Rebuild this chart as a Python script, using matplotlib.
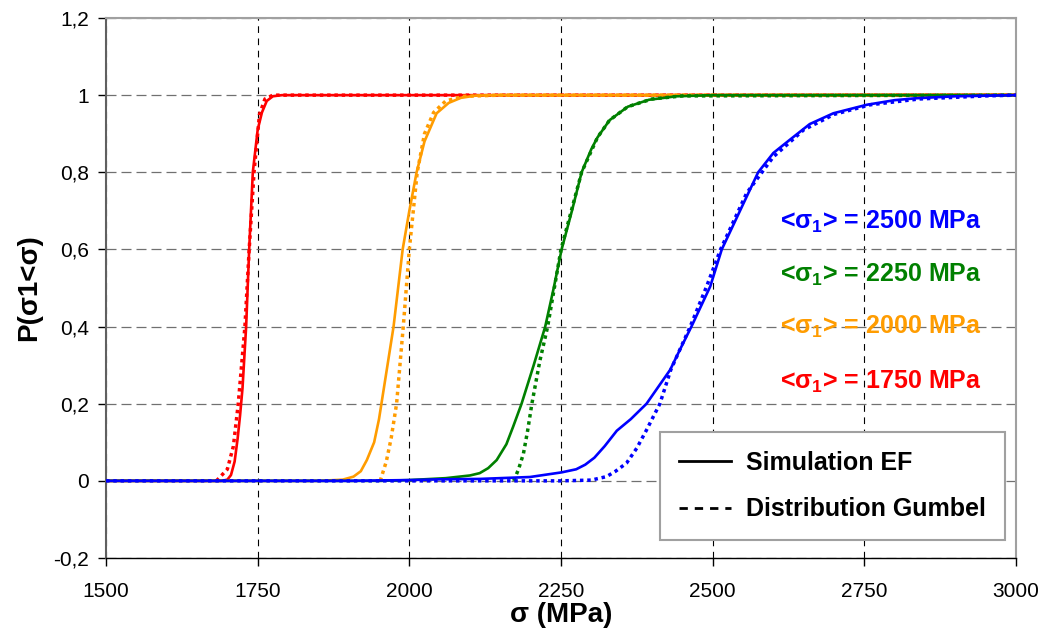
import matplotlib
matplotlib.use('Agg')
import matplotlib.pyplot as plt
from matplotlib.lines import Line2D
from matplotlib.ticker import FixedLocator, FuncFormatter

plt.rcParams['font.family'] = ['Liberation Sans', 'DejaVu Sans']
plt.rcParams['mathtext.fontset'] = 'custom'
plt.rcParams['mathtext.rm'] = 'Liberation Sans:bold'
plt.rcParams['mathtext.it'] = 'Liberation Sans:bold'
plt.rcParams['mathtext.bf'] = 'Liberation Sans:bold'

# Simulation EF (solid) and Gumbel (dotted)
red_sim_x = [1500, 1690, 1700, 1706, 1712, 1717, 1721, 1725, 1731, 1736, 1742, 1750, 1757, 1765, 1775, 1790, 3000]
red_sim_y = [0, 0, 0.003, 0.015, 0.05, 0.11, 0.17, 0.24, 0.4, 0.6, 0.8, 0.91, 0.955, 0.985, 0.997, 1.0, 1.0]
red_gum_x = [1682, 1700, 1710, 1718, 1729, 1736, 1744, 1753, 1762, 1775, 1800, 3000]
red_gum_y = [0, 0.03, 0.09, 0.2, 0.4, 0.6, 0.8, 0.95, 0.99, 1.0, 1.0, 1.0]

orange_sim_x = [1500, 1850, 1890, 1908, 1920, 1930, 1942, 1950, 1954, 1964, 1974, 1989, 2000, 2012,
                2025, 2045, 2065, 2085, 2110, 2150, 3000]
orange_sim_y = [0, 0, 0.003, 0.011, 0.025, 0.054, 0.1, 0.16, 0.2, 0.3, 0.4, 0.6, 0.7, 0.8,
                0.88, 0.953, 0.98, 0.993, 0.999, 1.0, 1.0]
orange_gum_x = [1952, 1962, 1970, 1979, 1990, 2000, 2013, 2025, 2040, 2060, 2090, 2150, 3000]
orange_gum_y = [0, 0.05, 0.11, 0.2, 0.4, 0.6, 0.8, 0.9, 0.955, 0.985, 0.997, 1.0, 1.0]

green_sim_x = [1500, 1950, 2000, 2060, 2100, 2116, 2130, 2144, 2160, 2171, 2185, 2205, 2224, 2238,
               2251, 2268, 2284, 2300, 2310, 2330, 2360, 2395, 2440, 2500, 3000]
green_sim_y = [0, 0, 0.002, 0.007, 0.014, 0.02, 0.033, 0.054, 0.095, 0.14, 0.2, 0.3, 0.4, 0.5,
               0.6, 0.7, 0.8, 0.86, 0.89, 0.935, 0.97, 0.988, 0.997, 1.0, 1.0]
green_gum_x = [2172, 2180, 2188, 2195, 2202, 2215, 2228, 2250, 2284, 2310, 2330, 2360, 2400, 2450, 3000]
green_gum_y = [0, 0.03, 0.07, 0.13, 0.2, 0.31, 0.4, 0.6, 0.8, 0.89, 0.935, 0.97, 0.99, 0.998, 1.0]

blue_sim_x = [1500, 1900, 2000, 2050, 2116, 2199, 2251, 2275, 2290, 2305, 2322, 2342, 2365, 2391, 2430,
              2446, 2465, 2496, 2515, 2545, 2575, 2600, 2627, 2660, 2699, 2754, 2800, 2836, 2900, 3000]
blue_sim_y = [0, 0, 0.002, 0.004, 0.005, 0.01, 0.022, 0.03, 0.042, 0.06, 0.09, 0.13, 0.16, 0.2, 0.288,
              0.34, 0.4, 0.504, 0.6, 0.7, 0.8, 0.85, 0.884, 0.925, 0.953, 0.975, 0.987, 0.992, 0.997, 1.0]
blue_gum_x = [1500, 2250, 2300, 2325, 2340, 2358, 2375, 2391, 2413, 2431, 2463, 2490, 2513, 2556,
              2600, 2650, 2700, 2760, 2840, 2950, 3000]
blue_gum_y = [0, 0, 0.002, 0.011, 0.025, 0.046, 0.085, 0.132, 0.2, 0.288, 0.4, 0.504, 0.6, 0.746,
              0.84, 0.91, 0.95, 0.975, 0.99, 0.998, 1.0]

labels = ['<σ$_1$> = 2500 MPa', '<σ$_1$> = 2250 MPa', '<σ$_1$> = 2000 MPa', '<σ$_1$> = 1750 MPa']
label_y = [0.672, 0.534, 0.399, 0.257]

x_ticks = [1500, 1750, 2000, 2250, 2500, 2750, 3000]
y_ticks = [-0.2, 0, 0.2, 0.4, 0.6, 0.8, 1.0, 1.2]

RED, ORANGE, GREEN, BLUE = '#ff0000', '#ff9c00', '#008000', '#0000ff'

fig = plt.figure(figsize=(10.48, 6.35), dpi=100)
ax = fig.add_axes([106 / 1048, 77 / 635, 910 / 1048, 540 / 635])

dot = (0, (1, 1.1))
series = [(red_sim_x, red_sim_y, red_gum_x, red_gum_y, RED),
          (orange_sim_x, orange_sim_y, orange_gum_x, orange_gum_y, ORANGE),
          (green_sim_x, green_sim_y, green_gum_x, green_gum_y, GREEN),
          (blue_sim_x, blue_sim_y, blue_gum_x, blue_gum_y, BLUE)]
for sx, sy, gx, gy, c in series:
    ax.plot(gx, gy, color=c, lw=2.5, linestyle=dot, zorder=3)
    ax.plot(sx, sy, color=c, lw=1.9, zorder=3)

for txt, yy, c in zip(labels, label_y, [BLUE, GREEN, ORANGE, RED]):
    ax.text(2611, yy, txt, color=c, fontsize=18, fontweight='bold', va='center', ha='left', zorder=4)

ax.set_xlim(1500, 3000)
ax.set_ylim(-0.2, 1.2)
ax.xaxis.set_major_locator(FixedLocator(x_ticks))
ax.yaxis.set_major_locator(FixedLocator(y_ticks))
ax.yaxis.set_major_formatter(FuncFormatter(lambda v, p: ('%g' % round(v, 1)).replace('.', ',')))
ax.tick_params(axis='both', direction='out', length=6, width=1, labelsize=15, colors='black')
ax.tick_params(axis='x', pad=11)
ax.tick_params(axis='y', pad=6)

ax.xaxis.grid(True, color='black', linestyle=(0, (6, 5)), lw=0.8)
ax.yaxis.grid(True, color='#707070', linestyle=(0, (8, 4)), lw=0.9)

ax.spines['left'].set_color('#606060')
ax.spines['left'].set_linewidth(1.5)
ax.spines['bottom'].set_color('black')
ax.spines['bottom'].set_linewidth(1.0)
for s in ['top', 'right']:
    ax.spines[s].set_color('#a0a0a0')
    ax.spines[s].set_linewidth(1.5)

ax.set_xlabel('σ (MPa)', fontsize=20, fontweight='bold', labelpad=1)
ax.set_ylabel('P(σ1<σ)', fontsize=20, fontweight='bold', labelpad=8)

handles = [Line2D([], [], color='black', lw=2),
           Line2D([], [], color='black', lw=2, linestyle=(0, (3, 2.5)))]
leg = ax.legend(handles, ['Simulation EF', 'Distribution Gumbel'],
                loc='lower right', bbox_to_anchor=(0.988, 0.033), borderaxespad=0,
                prop={'size': 18, 'weight': 'bold'}, fancybox=False,
                handlelength=2.1, handletextpad=0.6, labelspacing=0.9,
                borderpad=0.75, framealpha=1)
leg.get_frame().set_edgecolor('#a0a0a0')
leg.get_frame().set_linewidth(1.5)

fig.savefig('out.png', dpi=100)
